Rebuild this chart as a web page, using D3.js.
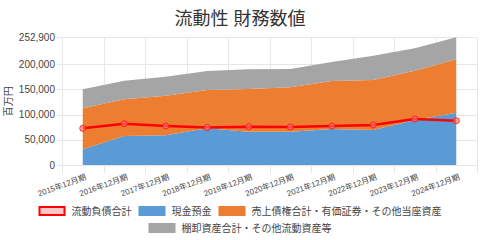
<!DOCTYPE html>
<html>
<head>
<meta charset="utf-8">
<script src="https://cdn.jsdelivr.net/npm/d3@7"></script>
<style>
  body { margin: 0; background: #fff; }
  svg { display: block; font-family: "Liberation Sans", Arial, "Noto Sans CJK JP", sans-serif; }
</style>
</head>
<body>
<svg id="chart" width="480" height="240"></svg>
<script>
// 流動性 財務数値 - stacked areas + 流動負債 line
var periods = ["2015年12月期", "2016年12月期", "2017年12月期", "2018年12月期", "2019年12月期",
               "2020年12月期", "2021年12月期", "2022年12月期", "2023年12月期", "2024年12月期"];
var cash = [31000, 57400, 59000, 72600, 66000, 66000, 71300, 69300, 89100, 103600];
var receivables = [81200, 72600, 78000, 75900, 84500, 87800, 95000, 99000, 97600, 105600];
var inventory = [37600, 37000, 37900, 37600, 38900, 36300, 37600, 48200, 44300, 43700];
var currentLiabilities = [72600, 81800, 77200, 74200, 75800, 75500, 77200, 79200, 91100, 87700];
var yTicks = [0, 50000, 100000, 150000, 200000, 252900];

var seriesNames = ["現金預金", "売上債権合計・有価証券・その他当座資産", "棚卸資産合計・その他流動資産等"];
var seriesColors = ["#5b9bd5", "#ed7d31", "#a5a5a5"];
var lineName = "流動負債合計";

var svg = d3.select("#chart");
var margin = { left: 62, right: 3, top: 37.3, bottom: 75 };
var width = 480 - margin.left - margin.right;
var height = 240 - margin.top - margin.bottom;

var rows = periods.map(function(p, i) {
    return { period: p, s0: cash[i], s1: receivables[i], s2: inventory[i], liab: currentLiabilities[i] };
});
var stacked = d3.stack().keys(["s0", "s1", "s2"])(rows);

var x = d3.scaleBand().domain(periods).range([margin.left, margin.left + width]);
var xc = function(p) { return x(p) + x.bandwidth() / 2; };
var y = d3.scaleLinear().domain([0, d3.max(yTicks)]).range([margin.top + height, margin.top]);

// title
svg.append("text")
    .attr("x", 240).attr("y", 25)
    .attr("text-anchor", "middle")
    .attr("font-size", 18)
    .attr("fill", "#333")
    .text("流動性 財務数値");

// grid
var grid = svg.append("g").attr("stroke", "#e6e6e6").attr("stroke-width", 1);
grid.selectAll(".hg").data(yTicks).enter().append("line")
    .attr("x1", margin.left - 5).attr("x2", margin.left + width)
    .attr("y1", function(d) { return Math.round(y(d)) + 0.5; })
    .attr("y2", function(d) { return Math.round(y(d)) + 0.5; });
var vlines = periods.map(function(p) { return x(p); }).concat([margin.left + width]);
grid.selectAll(".vg").data(vlines).enter().append("line")
    .attr("x1", function(d) { return Math.round(d) + 0.5; })
    .attr("x2", function(d) { return Math.round(d) + 0.5; })
    .attr("y1", margin.top).attr("y2", margin.top + height + 8);

// y axis labels
svg.append("g").selectAll("text").data(yTicks).enter().append("text")
    .attr("x", margin.left - 7)
    .attr("y", function(d) { return y(d); })
    .attr("dy", "0.35em")
    .attr("text-anchor", "end")
    .attr("font-size", 10)
    .attr("fill", "#444")
    .text(d3.format(","));

svg.append("text")
    .attr("transform", "translate(12," + (margin.top + height / 2) + ") rotate(-90)")
    .attr("text-anchor", "middle")
    .attr("font-size", 10)
    .attr("fill", "#444")
    .text("百万円");

// x axis labels
svg.append("g").selectAll("text").data(periods).enter().append("text")
    .attr("transform", function(d) { return "translate(" + (xc(d) + 2) + "," + (margin.top + height + 9) + ") rotate(-20)"; })
    .attr("text-anchor", "end")
    .attr("dy", "0.7em")
    .attr("font-size", 8)
    .attr("fill", "#444")
    .text(function(d) { return d; });

// stacked areas
var area = d3.area()
    .x(function(d) { return xc(d.data.period); })
    .y0(function(d) { return y(d[0]); })
    .y1(function(d) { return y(d[1]); });
svg.append("g").selectAll("path").data(stacked).enter().append("path")
    .attr("d", area)
    .attr("fill", function(d, i) { return seriesColors[i]; });

// liabilities line
var line = d3.line()
    .x(function(d) { return xc(d.period); })
    .y(function(d) { return y(d.liab); });
svg.append("path")
    .datum(rows)
    .attr("d", line)
    .attr("fill", "none")
    .attr("stroke", "#ff0000")
    .attr("stroke-width", 2.5);
svg.append("g").selectAll("circle").data(rows).enter().append("circle")
    .attr("cx", function(d) { return xc(d.period); })
    .attr("cy", function(d) { return y(d.liab); })
    .attr("r", 3)
    .attr("fill", "rgba(255,120,120,0.6)")
    .attr("stroke", "#ff2020")
    .attr("stroke-width", 1);

// legend
var legendItems = [
    { name: lineName, fill: "#ffc8c8", stroke: "#ff0000", row: 0 },
    { name: seriesNames[0], fill: seriesColors[0], stroke: null, row: 0 },
    { name: seriesNames[1], fill: seriesColors[1], stroke: null, row: 0 },
    { name: seriesNames[2], fill: seriesColors[2], stroke: null, row: 1 }
];
var boxW = 27, boxH = 10, gapText = 6, gapItem = 7;
var legend = svg.append("g").attr("font-size", 10).attr("fill", "#444");
[0, 1].forEach(function(r) {
    var items = legendItems.filter(function(d) { return d.row === r; });
    var g = legend.append("g");
    var cursor = 0;
    var rowY = r === 0 ? 206 : 223;
    items.forEach(function(it) {
        if (it.stroke) {
            g.append("rect").attr("x", cursor + 1).attr("y", rowY + 1)
                .attr("width", boxW - 2).attr("height", boxH - 2)
                .attr("fill", it.fill).attr("stroke", it.stroke).attr("stroke-width", 2);
        } else {
            g.append("rect").attr("x", cursor).attr("y", rowY)
                .attr("width", boxW).attr("height", boxH).attr("fill", it.fill);
        }
        var t = g.append("text").attr("x", cursor + boxW + gapText).attr("y", rowY + boxH / 2)
            .attr("dy", "0.35em").text(it.name);
        cursor += boxW + gapText + t.node().getComputedTextLength() + gapItem;
    });
    var total = cursor - gapItem;
    g.attr("transform", "translate(" + (240 - total / 2) + ",0)");
});
</script>
</body>
</html>
